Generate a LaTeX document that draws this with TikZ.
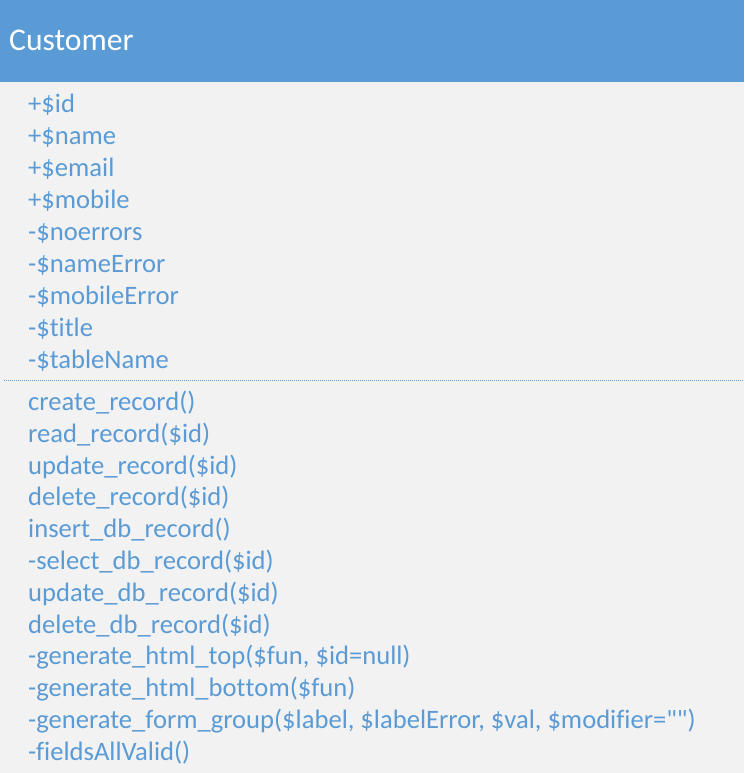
\documentclass[tikz,border=0pt]{standalone}
\usepackage{fontspec}
\setmainfont{Carlito}[Ligatures={TeXOff,NoCommon}]
\newcommand{\brk}{\kern0pt }
\definecolor{hdrblue}{HTML}{5B9BD5}
\definecolor{txtblue}{HTML}{5B9BD5}
\definecolor{bggray}{HTML}{F2F2F2}
\begin{document}
\begin{tikzpicture}[x=1pt,y=-1pt,
  member/.style={anchor=base west,inner sep=0pt,text=txtblue,font=\fontsize{26.6}{32}\selectfont},
  titletext/.style={anchor=base west,inner sep=0pt,text=white,font=\fontsize{31.6}{38}\selectfont}]
\useasboundingbox (0,0) rectangle (744,773);
\fill[bggray] (0,0) rectangle (744,773);
\fill[hdrblue] (0,0) rectangle (744,82);
\node[titletext] (title) at (9,51) {Customer};
% attributes
\foreach \t [count=\i from 0] in {+\$id,+\$name,+\$email,+\$mobile,-\$noerrors,-\$nameError,-\$mobileError,-\$t\brk i\brk t\brk le,-\$tableName}{
  \node[member] (a\i) at (28,113+31.9*\i) {\t};
}
\coordinate (sepL) at (4,380.5);
\coordinate (sepR) at (744,380.5);
\draw[txtblue,line width=0.8pt,dash pattern=on 1pt off 1pt] (sepL) -- (sepR);
% methods
\foreach \t [count=\i from 0] in {create\_record(),read\_record(\$id),update\_record(\$id),delete\_record(\$id),insert\_db\_record(),-select\_db\_record(\$id),update\_db\_record(\$id),delete\_db\_record(\$id),{-generate\_html\_top(\$fun, \$id=null)},-generate\_html\_bot\brk t\brk om(\$fun),{-generate\_form\_group(\$label, \$labelError, \$val, \$modifier="")},-f\brk ieldsAllValid()}{
  \node[member] (m\i) at (28,410.5+31.8*\i) {\t};
}
\end{tikzpicture}
\end{document}
